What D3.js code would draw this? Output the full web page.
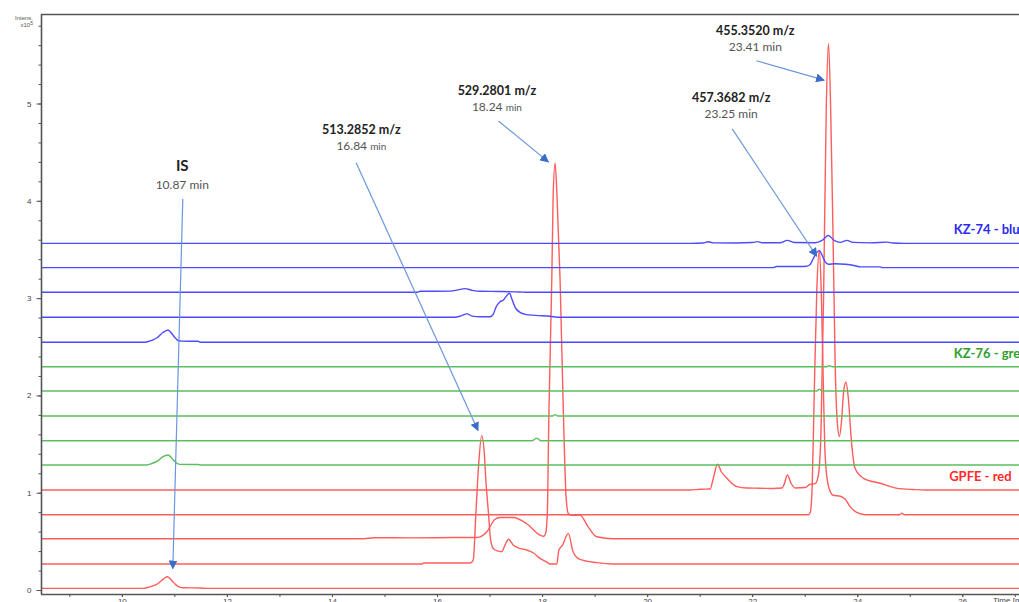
<!DOCTYPE html>
<html>
<head>
<meta charset="utf-8">
<script src="https://cdn.jsdelivr.net/npm/d3@7"></script>
<style>
  html, body { margin: 0; padding: 0; background: #fff; }
  svg { display: block; }
</style>
</head>
<body>
<svg id="chart" width="1019" height="602"></svg>
<script>
// ---------------- DATA ----------------
const timeTicks = [10, 12, 14, 16, 18, 20, 22, 24, 26];
const timeMinorTicks = [9, 10, 11, 12, 13, 14, 15, 16, 17, 18, 19, 20, 21, 22, 23, 24, 25, 26, 27];
const intensityTicks = [0, 1, 2, 3, 4, 5];
const intensityMinorTicks = d3.range(0, 30).map(i => +(i * 0.2).toFixed(1));

// trace order: bottom (index 0) to top (index 14)
const traceGroups = ["red", "red", "red", "red", "red",
                     "green", "green", "green", "green", "green",
                     "blue", "blue", "blue", "blue", "blue"];
// vertical offset of each trace (x10^5)
const baselineOffsets = [0.017, 0.267, 0.527, 0.774, 1.028,
                         1.285, 1.534, 1.788, 2.045, 2.295,
                         2.546, 2.803, 3.060, 3.313, 3.563];

// [time (min), intensity above own baseline (x10^5)]
const gpfe1 = [[8.47,0],[10.41,0],[10.53,0.015],[10.69,0.05],[10.8,0.1],[10.87,0.12],[10.95,0.082],[11.03,0.036],[11.1,0.012],[11.17,0.006],[11.49,0.003],[11.6,0],[27.2,0]];
const gpfe2 = [[8.47,0],[15.7,0],[15.75,0.01],[16.63,0.01],[16.69,0.04],[16.74,0.52],[16.79,1.0],[16.85,1.32],[16.9,1.14],[16.93,0.86],[16.98,0.52],[17.02,0.25],[17.07,0.16],[17.15,0.135],[17.23,0.127],[17.3,0.2],[17.36,0.254],[17.45,0.195],[17.58,0.16],[17.71,0.144],[17.83,0.116],[17.96,0.058],[18.09,0.02],[18.15,0],[18.28,0],[18.32,0.144],[18.39,0.195],[18.5,0.315],[18.59,0.127],[18.72,0.048],[19.04,0.014],[19.36,0],[27.2,0]];
const gpfe3 = [[8.47,0],[14.6,0],[14.8,0.01],[15.5,0.009],[16.3,0.012],[16.76,0.013],[16.95,0.072],[17.1,0.198],[17.2,0.219],[17.45,0.219],[17.71,0.154],[17.96,0.038],[18.03,0.025],[18.07,0.06],[18.1,0.26],[18.13,1.29],[18.185,2.66],[18.21,3.5],[18.248,3.86],[18.286,3.5],[18.343,2.66],[18.406,1.29],[18.457,0.43],[18.5,0.26],[18.57,0.24],[18.72,0.243],[18.88,0.12],[19.04,0.02],[19.36,0],[27.2,0]];
const gpfe4 = [[8.47,0],[23.07,0],[23.105,0.02],[23.143,0.3],[23.18,1.2],[23.23,2.3],[23.28,2.72],[23.32,2.2],[23.36,1.2],[23.39,0.6],[23.45,0.3],[23.54,0.2],[23.68,0.19],[23.77,0.16],[23.87,0.08],[23.99,0.023],[24.15,0],[24.8,0],[24.85,0.015],[24.9,0],[27.2,0]];
const gpfe5 = [[8.47,0],[20.82,0],[21.01,0.008],[21.2,0.01],[21.26,0.12],[21.34,0.264],[21.41,0.19],[21.52,0.12],[21.71,0.034],[21.9,0.02],[22.15,0.018],[22.4,0.015],[22.57,0.02],[22.61,0.06],[22.67,0.154],[22.74,0.07],[22.82,0.02],[23.01,0.025],[23.1,0.058],[23.2,0.065],[23.26,0.15],[23.31,0.6],[23.36,2.0],[23.41,3.9],[23.453,4.59],[23.495,3.9],[23.54,2.6],[23.58,1.3],[23.62,0.7],[23.66,0.55],[23.7,0.7],[23.74,1.0],[23.785,1.11],[23.83,0.95],[23.89,0.5],[23.96,0.22],[24.12,0.12],[24.44,0.069],[24.76,0.017],[25.07,0.005],[25.3,0],[27.2,0]];
const kz76a = [[8.47,0],[10.47,0],[10.57,0.015],[10.69,0.045],[10.78,0.085],[10.88,0.103],[10.95,0.07],[11.01,0.035],[11.07,0.012],[11.14,0.006],[11.45,0.005],[11.5,0],[27.2,0]];
const kz76b = [[8.47,0],[17.81,0],[17.9,0.027],[17.98,0],[27.2,0]];
const kz76c = [[8.47,0],[18.2,0],[18.25,0.015],[18.3,0],[27.2,0]];
const kz76d = [[8.47,0],[23.23,0],[23.28,0.02],[23.33,0],[27.2,0]];
const kz76e = [[8.47,0],[23.42,0],[23.47,0.01],[23.52,0],[27.2,0]];
const kz74a = [[8.47,0],[10.44,0],[10.57,0.02],[10.69,0.055],[10.78,0.1],[10.88,0.127],[10.95,0.09],[11.01,0.05],[11.07,0.018],[11.14,0.012],[11.45,0.01],[11.5,0],[27.2,0]];
const kz74b = [[8.47,0],[16.34,0],[16.46,0.015],[16.57,0.035],[16.67,0.012],[16.82,0.005],[17.01,0.005],[17.07,0.03],[17.12,0.1],[17.2,0.16],[17.26,0.175],[17.31,0.21],[17.38,0.247],[17.43,0.18],[17.49,0.1],[17.58,0.05],[17.68,0.03],[17.87,0.02],[18.15,0.01],[18.34,0],[27.2,0]];
const kz74c = [[8.47,0],[15.61,0],[15.68,0.01],[16.25,0.012],[16.4,0.025],[16.53,0.038],[16.67,0.02],[16.82,0.01],[17.2,0.008],[17.58,0.003],[17.7,0],[27.2,0]];
const kz74d = [[8.47,0],[22.4,0],[22.46,0.012],[22.91,0.012],[23.03,0.015],[23.1,0.03],[23.16,0.09],[23.22,0.15],[23.28,0.175],[23.33,0.13],[23.39,0.06],[23.45,0.035],[23.58,0.04],[23.77,0.035],[23.96,0.02],[24.06,0.008],[24.44,0.008],[24.48,0],[27.2,0]];
const kz74e = [[8.47,0],[20.82,0],[21.07,0.004],[21.16,0.017],[21.26,0.005],[21.68,0.004],[22.0,0.008],[22.1,0.018],[22.19,0.006],[22.53,0.006],[22.67,0.03],[22.8,0.008],[23.2,0.006],[23.33,0.03],[23.45,0.08],[23.56,0.03],[23.68,0.01],[23.8,0.03],[23.92,0.01],[24.25,0.005],[24.57,0.012],[24.67,0.004],[24.91,0],[27.2,0]];
const traces = [gpfe1, gpfe2, gpfe3, gpfe4, gpfe5, kz76a, kz76b, kz76c, kz76d, kz76e, kz74a, kz74b, kz74c, kz74d, kz74e];

const groupLabels = [
  {text: "KZ-74 - blue", group: "blue", t: 25.84, v: 3.66},
  {text: "KZ-76 - green", group: "green", t: 25.84, v: 2.38},
  {text: "GPFE - red", group: "red", t: 25.75, v: 1.12}
];

// annotations: peak label, retention-time label, arrow from/to (time, intensity)
const annotations = [
  {mz: "IS", rt: "10.87 min", small: false, lt: 11.15, lv: 4.31, from: [11.16, 4.02], to: [10.97, 0.22]},
  {mz: "513.2852 m/z", rt: "16.84", small: true, lt: 14.56, lv: 4.69, from: [14.46, 4.39], to: [16.78, 1.64]},
  {mz: "529.2801 m/z", rt: "18.24", small: true, lt: 17.14, lv: 5.09, from: [17.17, 4.82], to: [18.12, 4.4]},
  {mz: "455.3520 m/z", rt: "23.41 min", small: false, lt: 22.06, lv: 5.7, from: [22.08, 5.44], to: [23.37, 5.24]},
  {mz: "457.3682 m/z", rt: "23.25 min", small: false, lt: 21.6, lv: 5.02, from: [21.62, 4.74], to: [23.23, 3.43]}
];

// ---------------- STYLES ----------------
const colors = {red: "#ff5c5c", green: "#5cbd5c", blue: "#4b4bff"};
const labelColors = {red: "#ff2a2a", green: "#2e9e2e", blue: "#2a2af0"};

// ---------------- CHART ----------------
const svg = d3.select("#chart");
const x = d3.scaleLinear().domain([8.47, 27.08]).range([41.5, 1019]);
const y = d3.scaleLinear().domain([-0.041, 5.92]).range([594, 14]);

svg.append("defs").append("clipPath").attr("id", "plotclip")
  .append("rect").attr("x", 42).attr("y", 14).attr("width", 1019 - 42).attr("height", 580);

const gTraces = svg.append("g").attr("clip-path", "url(#plotclip)");
const line = d3.line().curve(d3.curveMonotoneX);

d3.range(traces.length).forEach(i => {
  const base = baselineOffsets[i];
  gTraces.append("path")
    .attr("d", line(traces[i].map(d => [x(d[0]), y(base + d[1])])))
    .attr("fill", "none")
    .attr("stroke", colors[traceGroups[i]])
    .attr("stroke-width", 1.4)
    .attr("stroke-linejoin", "round");
});

// axes
const axisColor = "#555";
const yAxis = svg.append("g").attr("transform", "translate(41.5,0)")
  .call(d3.axisLeft(y).tickValues(intensityTicks).tickSize(5).tickPadding(5).tickFormat(d3.format("d")));
const yMinor = svg.append("g").attr("transform", "translate(41.5,0)")
  .call(d3.axisLeft(y).tickValues(intensityMinorTicks).tickSize(3).tickFormat(""));
const xAxis = svg.append("g").attr("transform", "translate(0,594)")
  .call(d3.axisBottom(x).tickValues(timeTicks).tickSize(3).tickPadding(1).tickFormat(d3.format("d")));
const xMinor = svg.append("g").attr("transform", "translate(0,594)")
  .call(d3.axisBottom(x).tickValues(timeMinorTicks).tickSize(3).tickFormat(""));

[yAxis, yMinor, xAxis, xMinor].forEach(g => {
  g.select(".domain").remove();
  g.selectAll("line").attr("stroke", axisColor);
  g.selectAll("text").attr("fill", "#444").style("font-family", "Liberation Sans, Arial, sans-serif").style("font-size", "8px");
});
// axis lines
svg.append("line").attr("x1", 41.5).attr("x2", 41.5).attr("y1", 14).attr("y2", 594.5)
  .attr("stroke", axisColor).attr("stroke-width", 1.6);
svg.append("line").attr("x1", 41).attr("x2", 1019).attr("y1", 594.5).attr("y2", 594.5)
  .attr("stroke", axisColor).attr("stroke-width", 1.6);
svg.append("line").attr("x1", 41).attr("x2", 1019).attr("y1", 14.5).attr("y2", 14.5)
  .attr("stroke", axisColor).attr("stroke-width", 1.6);

// axis titles
const tiny = "Liberation Sans, Arial, sans-serif";
svg.append("text").attr("x", 33).attr("y", 20).attr("text-anchor", "end")
  .style("font-family", tiny).style("font-size", "6px").attr("fill", "#555").text("Intens.");
const xt = svg.append("text").attr("x", 33).attr("y", 27).attr("text-anchor", "end")
  .style("font-family", tiny).style("font-size", "6px").attr("fill", "#555");
xt.append("tspan").text("x10");
xt.append("tspan").attr("dy", -2).style("font-size", "5px").text("5");
svg.append("text").attr("x", 993).attr("y", 603)
  .style("font-family", tiny).style("font-size", "8px").attr("fill", "#444").text("Time [min]");

// group labels
const labelFont = "Lato, 'Open Sans', sans-serif";
groupLabels.forEach(l => {
  svg.append("text").attr("x", x(l.t)).attr("y", y(l.v))
    .style("font-family", labelFont).style("font-weight", "bold").style("font-size", "13px")
    .attr("fill", labelColors[l.group]).text(l.text);
});

// annotations
const defs = svg.select("defs");
defs.append("marker").attr("id", "arrowhead").attr("viewBox", "0 0 10 10")
  .attr("refX", 9).attr("refY", 5).attr("markerWidth", 9).attr("markerHeight", 9)
  .attr("markerUnits", "userSpaceOnUse").attr("orient", "auto")
  .append("path").attr("d", "M0,0 L10,5 L0,10 z").attr("fill", "#3b6cc9");

annotations.forEach(a => {
  const isIS = a.mz === "IS";
  svg.append("text").attr("x", x(a.lt)).attr("y", y(a.lv)).attr("text-anchor", "middle")
    .style("font-family", labelFont).style("font-weight", "bold")
    .style("font-size", isIS ? "15px" : "12.5px").attr("fill", "#222").text(a.mz);
  const t2 = svg.append("text").attr("x", x(a.lt)).attr("y", y(a.lv) + (isIS ? 18 : 16)).attr("text-anchor", "middle")
    .style("font-family", labelFont).style("font-size", "12px").attr("fill", "#555");
  if (a.small) {
    t2.append("tspan").text(a.rt + " ");
    t2.append("tspan").style("font-size", "10px").text("min");
  } else {
    t2.text(a.rt);
  }
  svg.append("line")
    .attr("x1", x(a.from[0])).attr("y1", y(a.from[1]))
    .attr("x2", x(a.to[0])).attr("y2", y(a.to[1]))
    .attr("stroke", "#6a97dc").attr("stroke-width", 1.2)
    .attr("marker-end", "url(#arrowhead)");
});
</script>
</body>
</html>
